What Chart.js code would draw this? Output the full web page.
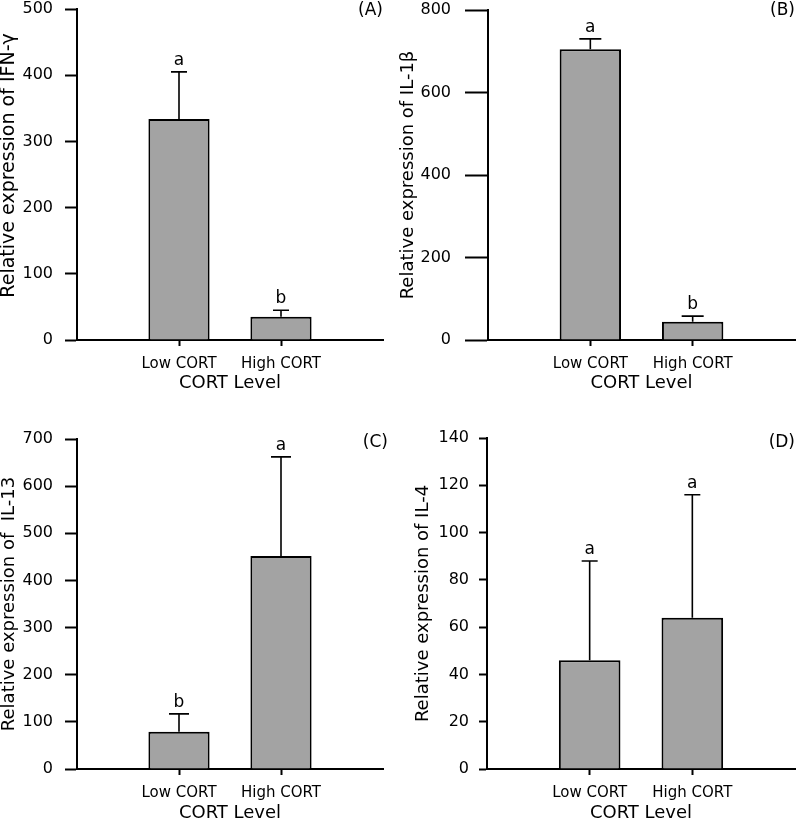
<!DOCTYPE html>
<html>
<head>
<meta charset="utf-8">
<title>CORT level and cytokine expression</title>
<script src="https://cdn.jsdelivr.net/npm/chart.js@4.4.1/dist/chart.umd.min.js"></script>
<style>
    body { margin: 0; background: #fff; }
    canvas { position: absolute; }
</style>
</head>
<body>
<canvas id="chartA" width="399" height="399" style="left:0;top:0"></canvas>
<canvas id="chartB" width="399" height="399" style="left:399px;top:0"></canvas>
<canvas id="chartC" width="399" height="423" style="left:0;top:399px"></canvas>
<canvas id="chartD" width="399" height="423" style="left:399px;top:399px"></canvas>
<script>
// Groups on the x axis
const groups = ["Low CORT", "High CORT"];

// (A) IFN-gamma
const ifnMean = [334, 35];
const ifnError = [71, 10];
const ifnLetters = ["a", "b"];
const ifnTicks = [0, 100, 200, 300, 400, 500];

// (B) IL-1beta
const il1bMean = [705, 44];
const il1bError = [25, 14];
const il1bLetters = ["a", "b"];
const il1bTicks = [0, 200, 400, 600, 800];

// (C) IL-13
const il13Mean = [79, 452];
const il13Error = [38, 210];
const il13Letters = ["b", "a"];
const il13Ticks = [0, 100, 200, 300, 400, 500, 600, 700];

// (D) IL-4
const il4Mean = [46, 64];
const il4Error = [42, 52];
const il4Letters = ["a", "a"];
const il4Ticks = [0, 20, 40, 60, 80, 100, 120, 140];

Chart.defaults.font.family = '"DejaVu Sans", sans-serif';
Chart.defaults.color = '#000';

// draws the one-sided error bars, the letters above them and the panel tag
const errorBarPlugin = {
    id: 'errorBars',
    afterDatasetsDraw(chart, args, opts) {
        const ctx = chart.ctx;
        const yScale = chart.scales.y;
        const ds = chart.data.datasets[0];
        const meta = chart.getDatasetMeta(0);

        ctx.save();
        ctx.strokeStyle = '#000';
        ctx.fillStyle = '#000';
        ctx.lineWidth = 1.6;
        ctx.font = '17px "DejaVu Sans"';
        ctx.textAlign = 'center';
        ctx.textBaseline = 'alphabetic';

        meta.data.forEach((bar, i) => {
            const value = ds.data[i];
            if (value === null) return;
            const top = yScale.getPixelForValue(value + ds.errors[i]);
            ctx.beginPath();
            ctx.moveTo(bar.x, bar.y);
            ctx.lineTo(bar.x, top);
            ctx.moveTo(bar.x - opts.cap / 2, top);
            ctx.lineTo(bar.x + opts.cap / 2, top);
            ctx.stroke();
            ctx.fillText(ds.letters[i], bar.x, top - 7);
        });

        ctx.textAlign = 'right';
        ctx.textBaseline = 'middle';
        ctx.fillText(opts.tag, opts.tagX, opts.tagY);
        ctx.restore();
    }
};

function makePanel(id, mean, errors, letters, ticks, yTitle, box) {
    new Chart(document.getElementById(id), {
        type: 'bar',
        data: {
            // empty slots at both ends so the two bars sit at 1/3 and 2/3 of the axis
            labels: ["", ...groups, ""],
            datasets: [{
                data: [null, ...mean, null],
                errors: [null, ...errors, null],
                letters: ["", ...letters, ""],
                backgroundColor: '#a3a3a3',
                borderColor: '#000',
                borderWidth: 2,
                categoryPercentage: 0.6,
                barPercentage: 1
            }]
        },
        options: {
            responsive: false,
            animation: false,
            layout: {
                padding: { left: 0, top: box.top, right: box.right, bottom: 0 }
            },
            plugins: {
                legend: { display: false },
                tooltip: { enabled: false },
                errorBars: { cap: box.cap, tag: box.tag, tagX: box.tagX, tagY: box.tagY }
            },
            scales: {
                x: {
                    offset: false,
                    grid: {
                        offset: false,
                        drawOnChartArea: false,
                        tickLength: 6,
                        tickWidth: 2,
                        tickColor: c => (c.index === 1 || c.index === 2) ? '#000' : 'rgba(0,0,0,0)'
                    },
                    border: { display: true, color: '#000', width: 2 },
                    ticks: { font: { size: 15, lineHeight: 1 }, padding: 11, autoSkip: false, maxRotation: 0 },
                    title: {
                        display: true,
                        text: 'CORT Level',
                        font: { size: 18, lineHeight: 1 },
                        padding: { top: 0, bottom: box.xTitlePad }
                    },
                    afterFit: s => {
                        s.height = box.xHeight;
                        s.paddingLeft = 0;
                        s.paddingRight = 0;
                    }
                },
                y: {
                    min: 0,
                    max: ticks[ticks.length - 1],
                    afterBuildTicks: s => { s.ticks = ticks.map(v => ({ value: v })); },
                    grid: {
                        drawOnChartArea: false,
                        tickLength: box.tickLen,
                        tickWidth: 2,
                        tickColor: '#000'
                    },
                    border: { display: true, color: '#000', width: 2 },
                    ticks: { font: { size: 16, lineHeight: 1 }, padding: box.tickPad },
                    title: {
                        display: true,
                        text: yTitle,
                        font: { size: box.yTitleSize, lineHeight: 1 },
                        padding: { top: box.yTitlePad, bottom: 0 }
                    },
                    afterFit: s => {
                        s.width = box.left;
                        s.paddingTop = 0;
                        s.paddingBottom = 0;
                    }
                }
            }
        },
        plugins: [errorBarPlugin]
    });
}

makePanel('chartA', ifnMean, ifnError, ifnLetters, ifnTicks, '   Relative expression of IFN-\u03b3', {
    left: 77, top: 9, right: 16, xHeight: 59, xTitlePad: 7,
    tickLen: 12, tickPad: 12, yTitleSize: 19, yTitlePad: 0,
    cap: 16, tag: '(A)', tagX: 383, tagY: 11
});

makePanel('chartB', il1bMean, il1bError, il1bLetters, il1bTicks, 'Relative expression of IL-1\u03b2', {
    left: 89, top: 10, right: 3, xHeight: 59, xTitlePad: 7,
    tickLen: 23, tickPad: 14, yTitleSize: 18, yTitlePad: 0,
    cap: 22, tag: '(B)', tagX: 396, tagY: 11
});

makePanel('chartC', il13Mean, il13Error, il13Letters, il13Ticks, 'Relative expression of  IL-13', {
    left: 77, top: 40, right: 16, xHeight: 53, xTitlePad: 0,
    tickLen: 12, tickPad: 12, yTitleSize: 18, yTitlePad: 0,
    cap: 20, tag: '(C)', tagX: 388, tagY: 44
});

makePanel('chartD', il4Mean, il4Error, il4Letters, il4Ticks, 'Relative expression of IL-4', {
    left: 88, top: 39, right: 3, xHeight: 53, xTitlePad: 0,
    tickLen: 8, tickPad: 10, yTitleSize: 18, yTitlePad: 15,
    cap: 16, tag: '(D)', tagX: 396, tagY: 44
});
</script>
</body>
</html>
